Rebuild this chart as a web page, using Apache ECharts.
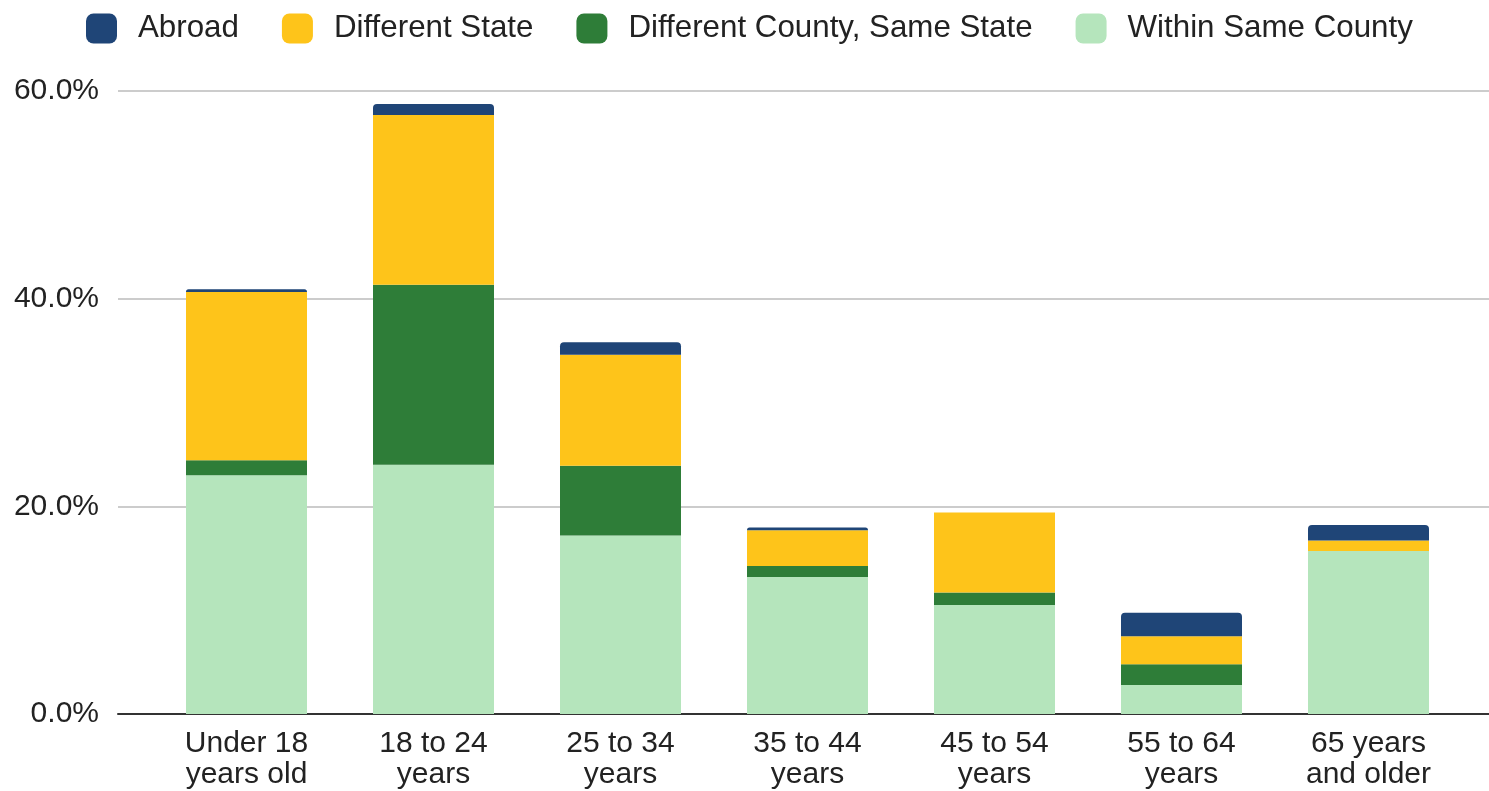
<!DOCTYPE html>
<html style="height: 100%">
<head>
	<meta charset="utf-8">
	<script type="text/javascript" src="https://cdn.jsdelivr.net/npm/echarts@6/dist/echarts.min.js"></script>
	<style>
	body{
		margin:0;
		background:#fff;
	}
	#container{
		width:1489px;
		height:791px;
	}
	</style>
</head>
<body>
	<div id="container"></div>
	<script>
	// age groups
	var categories = ['Under 18\nyears old', '18 to 24\nyears', '25 to 34\nyears', '35 to 44\nyears',
					'45 to 54\nyears', '55 to 64\nyears', '65 years\nand older'];
	// percent of movers, stacked bottom -> top
	var withinCounty = [23.0, 24.0, 17.2, 13.2, 10.5, 2.8, 15.7];
	var diffCounty = [1.45, 17.35, 6.7, 1.05, 1.2, 2.0, 0];
	var diffState = [16.2, 16.35, 10.7, 3.45, 7.7, 2.7, 1.0];
	var abroad = [0.25, 1.05, 1.2, 0.25, 0, 2.25, 1.5];
	var yTicks = [0, 20, 40, 60];

	var font = "'Liberation Sans', Arial, sans-serif";
	var myChart = echarts.init(document.getElementById('container'));

	function barSeries(name, data, color, top) {
		return {
			name: name,
			type: 'bar',
			stack: 'total',
			xAxisIndex: 1,
			yAxisIndex: 1,
			barWidth: 121,
			data: data,
			itemStyle: {
				color: color,
				borderRadius: top ? [4, 4, 0, 0] : 0
			},
			emphasis: {disabled: true}
		};
	}

	var option = {
		animation: false,
		textStyle: {fontFamily: font},
		legend: {
			left: 86,
			top: 13,
			padding: 0,
			icon: 'roundRect',
			itemWidth: 31,
			itemHeight: 30,
			itemGap: 43,
			data: ['Abroad', 'Different State', 'Different County, Same State', 'Within Same County'],
			textStyle: {
				fontFamily: font,
				fontSize: 31.3,
				color: '#222',
				padding: [0, 0, 0, 16]
			}
		},
		grid: [
			{left: 118, right: 0, top: 91, bottom: 77},
			{left: 153, right: 27, top: 91, bottom: 77}
		],
		xAxis: [
			{
				type: 'category',
				gridIndex: 0,
				data: [''],
				axisLine: {lineStyle: {color: '#333', width: 2}},
				axisTick: {show: false},
				axisLabel: {show: false}
			},
			{
				type: 'category',
				gridIndex: 1,
				data: categories,
				axisLine: {show: false},
				axisTick: {show: false},
				axisLabel: {
					fontFamily: font,
					fontSize: 30,
					lineHeight: 31,
					color: '#222',
					margin: 14,
					interval: 0
				}
			}
		],
		yAxis: [
			{
				type: 'value',
				gridIndex: 0,
				min: yTicks[0],
				max: yTicks[yTicks.length - 1],
				interval: yTicks[1] - yTicks[0],
				axisLine: {show: false},
				axisTick: {show: false},
				axisLabel: {
					fontFamily: font,
					fontSize: 30,
					color: '#222',
					margin: 19,
					formatter: function (v) { return v.toFixed(1) + '%'; }
				},
				splitLine: {lineStyle: {color: '#cccccc', width: 2}}
			},
			{
				type: 'value',
				gridIndex: 1,
				min: yTicks[0],
				max: yTicks[yTicks.length - 1],
				interval: yTicks[1] - yTicks[0],
				show: false,
				splitLine: {show: false}
			}
		],
		series: [
			barSeries('Within Same County', withinCounty, '#b5e5bc', false),
			barSeries('Different County, Same State', diffCounty, '#2e7d38', false),
			barSeries('Different State', diffState, '#fec41a', false),
			barSeries('Abroad', abroad, '#1f4577', true)
		]
	};

	myChart.setOption(option);
	</script>
</body>
</html>
